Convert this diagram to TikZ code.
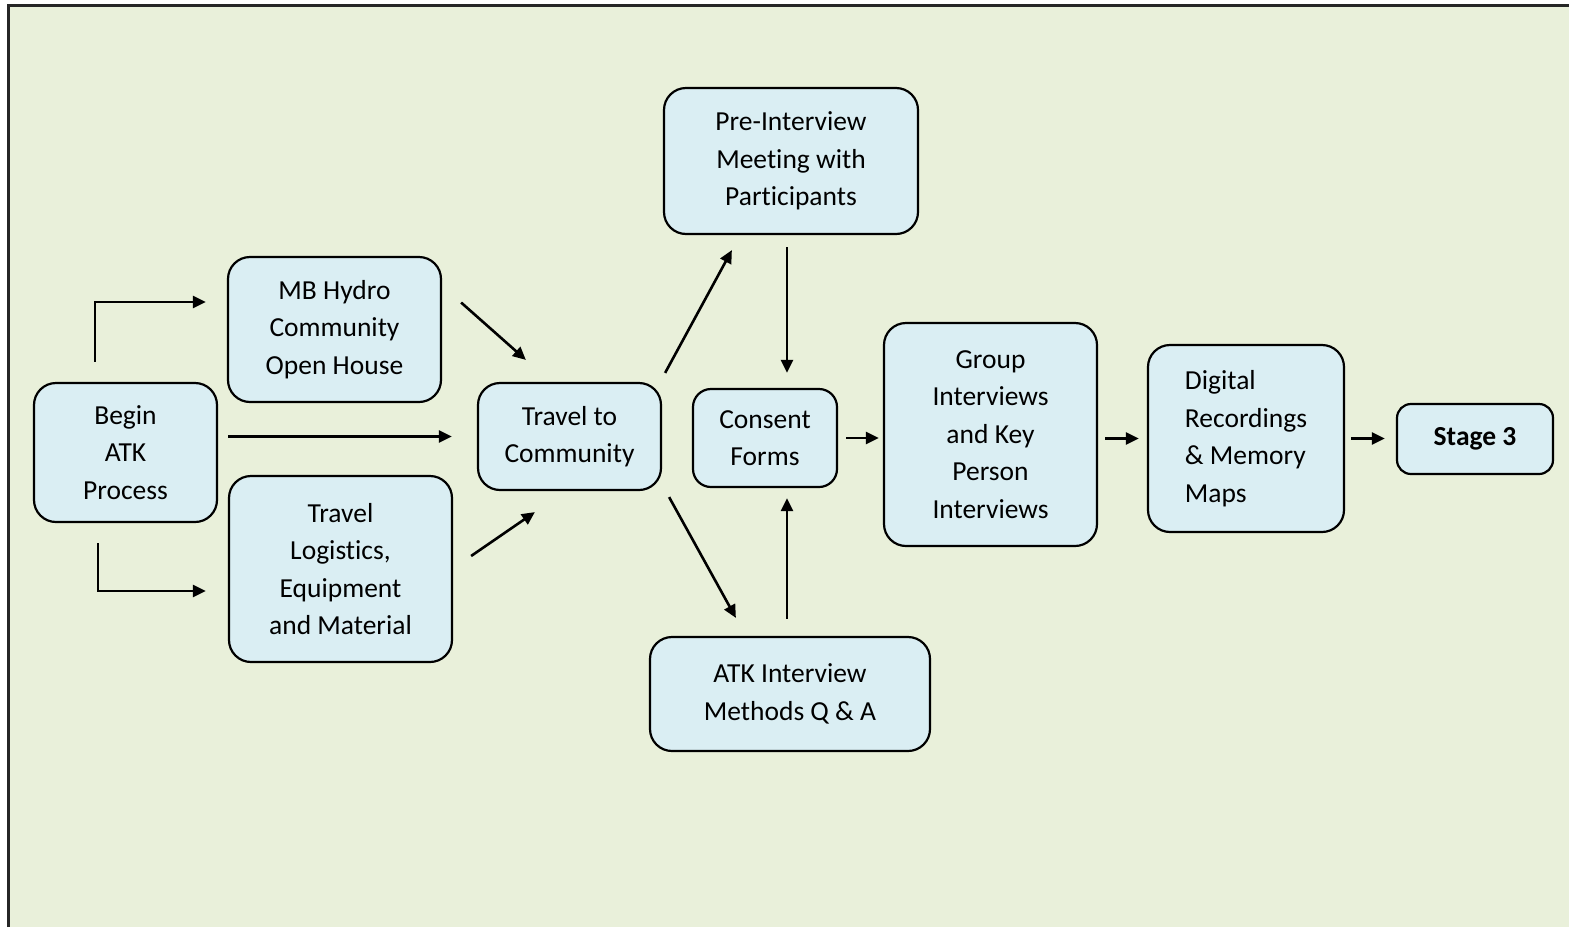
\documentclass[tikz,border=0pt]{standalone}
\usepackage{fontspec}
\setmainfont{Carlito}[Ligatures=NoCommon]
\usetikzlibrary{arrows.meta,positioning,calc}
\definecolor{hatter}{HTML}{E9F0DA}
\definecolor{kek}{HTML}{DAEEF3}
\tikzset{
  box/.style={draw,line width=2.2pt,rounded corners=22pt,fill=kek,inner sep=0pt,align=center,
              font=\fontsize{27.5}{37.5}\selectfont},
  arr/.style={-{Triangle[length=13pt,width=12pt]},line width=2.6pt},
}
\begin{document}
\begin{tikzpicture}[x=1pt,y=-1pt]
  \useasboundingbox (0,0) rectangle (1569,927);
  \fill[hatter] (8,5) rectangle (1569,927);
  \draw[line width=3pt,black!85] (8,927) -- (8,5) -- (1569,5);

  \node[box,minimum width=183pt,minimum height=139pt] (begin) at (125.5,452.5) {Begin\\ATK\\Process};
  \node[box,minimum width=213pt,minimum height=145pt] (hydro) at (334.5,329.5) {MB Hydro\\Community\\Open House};
  \node[box,minimum width=223pt,minimum height=186pt] (logist) at (340.5,569) {Travel\\Logistics,\\Equipment\\and Material};
  \node[box,minimum width=183pt,minimum height=107pt] (travel) at (569.5,436.5) {Travel to\\Community};
  \node[box,minimum width=254pt,minimum height=146pt] (pre) at (791,161) {Pre-Interview\\Meeting with\\Participants};
  \node[box,minimum width=144pt,minimum height=98pt,rounded corners=18pt] (consent) at (765,438) {Consent\\Forms};
  \node[box,minimum width=280pt,minimum height=114pt] (methods) at (790,694) {ATK Interview\\Methods Q \& A};
  \node[box,minimum width=213pt,minimum height=223pt] (group) at (990.5,434.5) {Group\\Interviews\\and Key\\Person\\Interviews};
  \node[box,minimum width=196pt,minimum height=187pt,align=left] (digital) at (1246,438.5) {Digital\\Recordings\\\& Memory\\Maps};
  \node[box,minimum width=156pt,minimum height=70pt,rounded corners=14pt,font=\fontsize{27.5}{37.5}\selectfont\bfseries] (stage) at (1475,439) {Stage 3};

  \draw[arr,shorten <=20pt,shorten >=21pt] ($(begin.north west)+(62,0)$) |- ($(hydro.west)+(0,-27.5)$);
  \draw[arr,shorten <=20pt,shorten >=22pt] ($(begin.south west)+(65,0)$) |- ($(logist.west)+(0,22)$);
  \draw[arr,shorten <=10pt,shorten >=25pt] (begin.east |- travel.west) -- (travel.west);
  \draw[arr] ($(hydro.east)+(19,-27)$) -- ($(travel.north west)+(49,-22)$);
  \draw[arr] ($(logist.east)+(18,-13)$) -- ($(travel.south west)+(58,21)$);
  \draw[arr] ($(travel.north east)+(3,-9)$) -- ($(pre.south west)+(69,15)$);
  \draw[arr] ($(travel.south east)+(7,6)$) -- ($(methods.north west)+(87,-18)$);
  \draw[arr] ($(pre.south)+(-4,12)$) -- ($(consent.north)+(22,-15)$);
  \draw[arr] ($(methods.north)+(-3,-17)$) -- ($(consent.south)+(22,10)$);
  \draw[arr,shorten <=8pt,shorten >=4pt] (consent.east) -- (consent.east -| group.west);
  \draw[arr,shorten <=7pt,shorten >=8pt] (digital.west -| group.east) -- (digital.west);
  \draw[arr,shorten <=6pt,shorten >=11pt] (digital.east) -- (digital.east -| stage.west);
\end{tikzpicture}
\end{document}
